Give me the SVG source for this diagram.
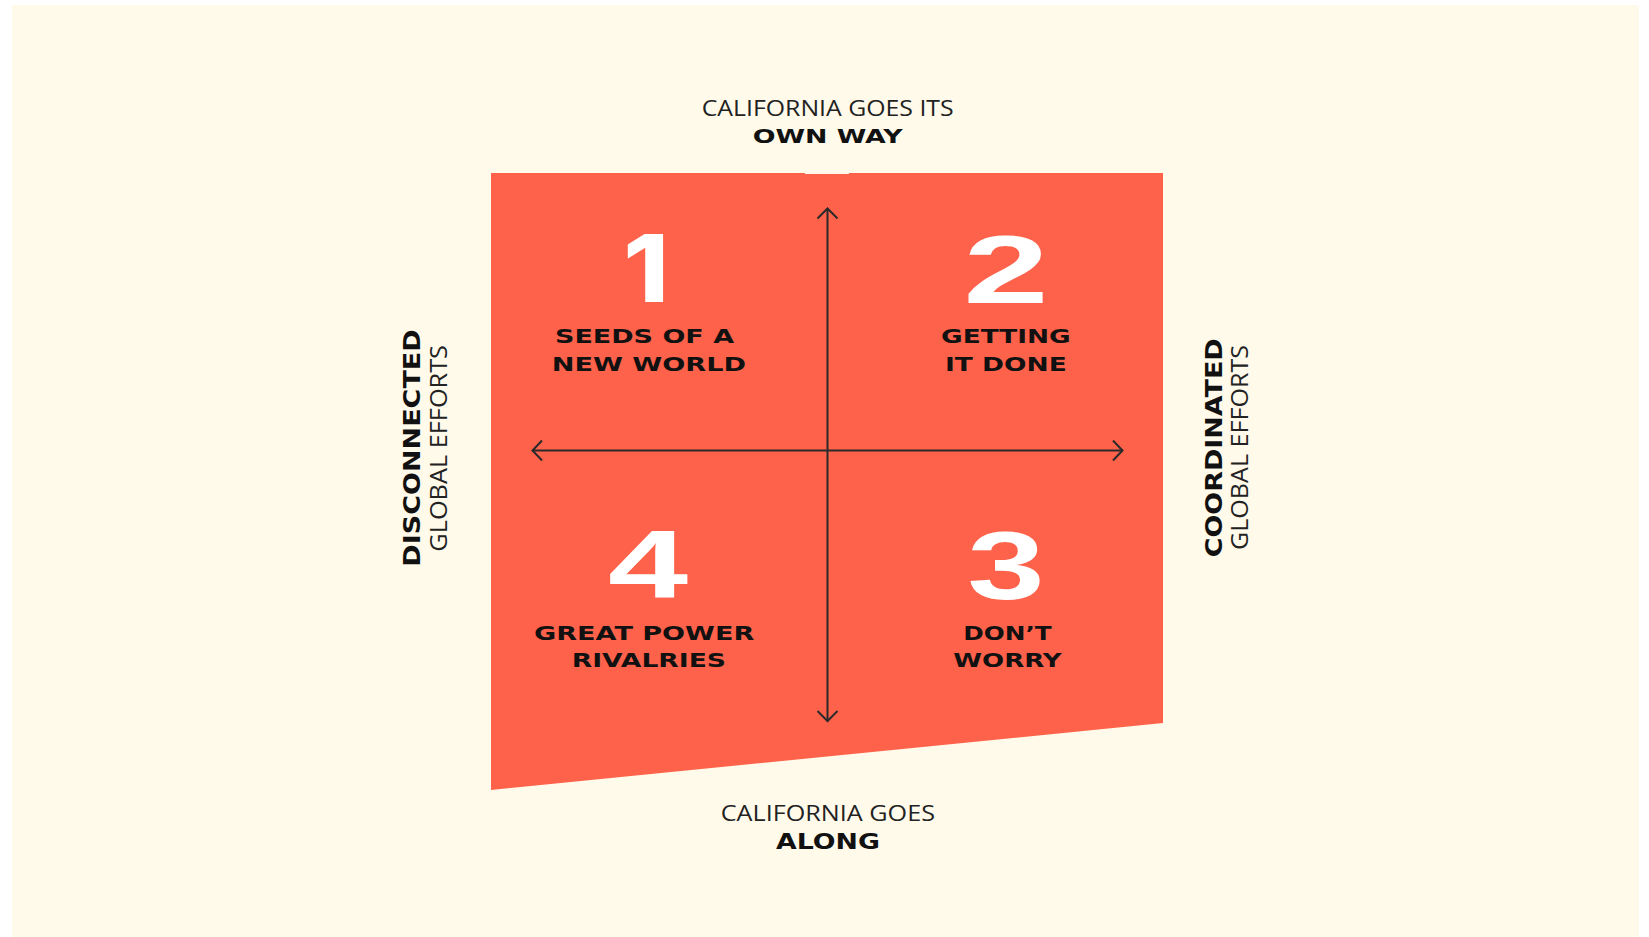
<svg xmlns="http://www.w3.org/2000/svg" width="1649" height="937" viewBox="0 0 1649 937">
  <style>
    .bold { font-family: "DejaVu Sans", "Liberation Sans", sans-serif; font-weight: bold; fill: #111111; }
    .reg { font-family: "Open Sans", "Liberation Sans", sans-serif; font-weight: 400; fill: #222222; }
    .num { font-family: "Liberation Sans", Arial, sans-serif; font-weight: bold; fill: #ffffff; font-size: 96px; text-anchor: middle; }
    .one { font-family: Inter, Roboto, sans-serif; font-weight: 800; font-size: 94px; }
    .axis { stroke: #2a2a2a; stroke-width: 2; fill: none; }
  </style>
  <rect x="0" y="0" width="1649" height="937" fill="#ffffff"/>
  <rect x="12" y="5" width="1627" height="932" fill="#fffaea"/>

  <g id="matrix">
    <polygon points="491,173 1163,173 1163,723 491,790" fill="#ff624a"/>
    <rect x="805" y="172.5" width="44" height="1.5" fill="#fff6ec"/>
  </g>

  <g id="connectors">
    <line class="axis" x1="827.5" y1="208" x2="827.5" y2="721.5"/>
    <polyline class="axis" points="817.5,218.5 827.5,208.5 837.5,218.5"/>
    <polyline class="axis" points="817.5,711 827.5,721 837.5,711"/>
    <line class="axis" x1="532" y1="450.5" x2="1123" y2="450.5"/>
    <polyline class="axis" points="542,440.5 532.5,450.5 542,460.5"/>
    <polyline class="axis" points="1113,440.5 1122.5,450.5 1113,460.5"/>
  </g>

  <g id="label-top">
    <text class="reg" x="701.7" y="115.7" font-size="21" textLength="252" lengthAdjust="spacingAndGlyphs">CALIFORNIA GOES ITS</text>
    <text class="bold" x="752.7" y="142.5" font-size="20" textLength="150" lengthAdjust="spacingAndGlyphs">OWN WAY</text>
  </g>

  <g id="label-bottom">
    <text class="reg" x="720.7" y="821.3" font-size="22" textLength="214.3" lengthAdjust="spacingAndGlyphs">CALIFORNIA GOES</text>
    <text class="bold" x="776" y="849" font-size="20.5" textLength="104" lengthAdjust="spacingAndGlyphs">ALONG</text>
  </g>

  <g id="label-left">
    <text class="bold" transform="translate(420,566.7) rotate(-90)" x="0" y="0" font-size="22.5" textLength="237.4" lengthAdjust="spacingAndGlyphs">DISCONNECTED</text>
    <text class="reg" transform="translate(446.7,551.7) rotate(-90)" x="0" y="0" font-size="23" textLength="206.7" lengthAdjust="spacingAndGlyphs">GLOBAL EFFORTS</text>
  </g>

  <g id="label-right">
    <text class="bold" transform="translate(1221.7,557.3) rotate(-90)" x="0" y="0" font-size="22.5" textLength="219" lengthAdjust="spacingAndGlyphs">COORDINATED</text>
    <text class="reg" transform="translate(1248.3,550) rotate(-90)" x="0" y="0" font-size="23" textLength="205" lengthAdjust="spacingAndGlyphs">GLOBAL EFFORTS</text>
  </g>

  <g id="quadrant-1">
    <text class="num one" transform="translate(646,301.7) scale(1.1,1)">1</text>
    <text class="bold" x="555" y="343.3" font-size="19.5" textLength="179" lengthAdjust="spacingAndGlyphs">SEEDS OF A</text>
    <text class="bold" x="551.7" y="371" font-size="19.5" textLength="194.3" lengthAdjust="spacingAndGlyphs">NEW WORLD</text>
  </g>

  <g id="quadrant-2">
    <text class="num" transform="translate(1006,302.7) scale(1.6,1)">2</text>
    <text class="bold" x="941" y="343" font-size="19.5" textLength="129.7" lengthAdjust="spacingAndGlyphs">GETTING</text>
    <text class="bold" x="945" y="371" font-size="19.5" textLength="121.7" lengthAdjust="spacingAndGlyphs">IT DONE</text>
  </g>

  <g id="quadrant-4">
    <text class="num" transform="translate(648,598.3) scale(1.5,1)">4</text>
    <text class="bold" x="534" y="640" font-size="19.5" textLength="220.3" lengthAdjust="spacingAndGlyphs">GREAT POWER</text>
    <text class="bold" x="571.7" y="667.3" font-size="19.5" textLength="154.3" lengthAdjust="spacingAndGlyphs">RIVALRIES</text>
  </g>

  <g id="quadrant-3">
    <text class="num" transform="translate(1006,599.3) scale(1.45,1)">3</text>
    <text class="bold" x="963.3" y="640" font-size="19.5" textLength="88.4" lengthAdjust="spacingAndGlyphs">DON’T</text>
    <text class="bold" x="953.3" y="667" font-size="19.5" textLength="108.4" lengthAdjust="spacingAndGlyphs">WORRY</text>
  </g>
</svg>
